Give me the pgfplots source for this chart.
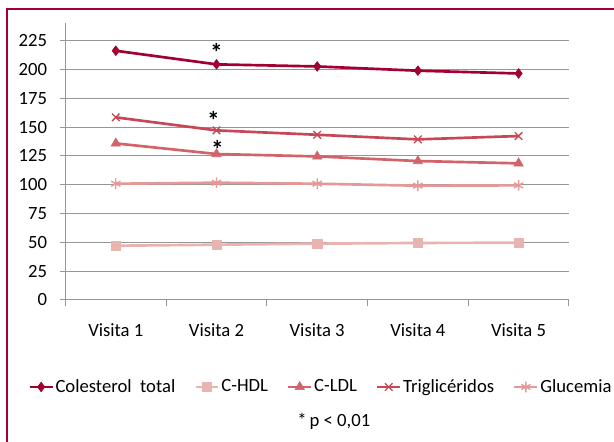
\documentclass[border=0pt]{standalone}
\usepackage{pgfplots}
\pgfplotsset{compat=1.18}
\usepackage{fontspec}
\setmainfont{Carlito}
\definecolor{cCol}{RGB}{163,0,50}
\definecolor{cTri}{RGB}{198,72,86}
\definecolor{cLDL}{RGB}{210,100,105}
\definecolor{cGlu}{RGB}{228,152,152}
\definecolor{cHDL}{RGB}{232,180,175}
\definecolor{cGrid}{RGB}{150,150,150}
\begin{document}
\fontsize{14pt}{17pt}\selectfont
\begin{tikzpicture}
\path[use as bounding box] (0,0) rectangle (460.5pt,331.5pt);
\draw[cCol, line width=1.5pt] (4.9pt,0) -- (4.9pt,324.6pt) -- (460.5pt,324.6pt);
\begin{axis}[
  at={(49.1pt,106.5pt)}, anchor=south west,
  scale only axis, width=377.6pt, height=207.4pt,
  xmin=-0.5, xmax=4.5, ymin=0, ymax=240,
  axis x line*=bottom, axis y line*=left,
  axis line style={cGrid, line width=0.75pt},
  xtick={0,1,2,3,4},
  xticklabels={Visita 1,Visita 2,Visita 3,Visita 4,Visita 5},
  minor xtick={-0.5,0.5,1.5,2.5,3.5,4.5},
  ytick={0,25,...,225},
  minor ytick={0,25,...,225},
  major tick length=0pt, minor tick length=4.2pt, tick align=outside,
  tick style={cGrid, line width=0.75pt},
  ymajorgrids, major grid style={cGrid, line width=0.75pt},
  /pgf/number format/assume math mode=true,
  ticklabel style={font=\fontsize{14pt}{17pt}\selectfont},
  xticklabel style={anchor=base, inner sep=0pt, yshift=-27.7pt},
  yticklabel style={anchor=east, inner sep=0pt, xshift=-13.6pt},
  legend columns=5,
  legend style={at={(0.507,-0.3146)}, anchor=center, draw=none, fill=none,
    font=\fontsize{14pt}{17pt}\selectfont, inner sep=0pt,
    nodes={inner sep=1.2pt},
    /tikz/every even column/.append style={column sep=13pt}},
  legend image code/.code={\draw[mark repeat=2,mark phase=2,#1] plot coordinates {(0pt,0pt)(8.6pt,0pt)(17.2pt,0pt)};},
  clip=false,
]
\addplot[cCol, line width=2pt, mark=diamond*, mark size=3.6pt, mark options={solid, line width=0.5pt}]
  coordinates {(0,216.3) (1,204.5) (2,202.7) (3,199.0) (4,196.6)};
\addlegendentry{Colesterol\ \ total}
\addplot[cHDL, line width=2pt, mark=square*, mark size=3.5pt, mark options={solid, line width=0.5pt}]
  coordinates {(0,47.1) (1,48.0) (2,48.9) (3,49.5) (4,49.7)};
\addlegendentry{C-HDL}
\addplot[cLDL, line width=2pt, mark=triangle*, mark size=4pt, mark options={solid, line width=0.5pt}]
  coordinates {(0,135.9) (1,126.7) (2,124.6) (3,120.6) (4,118.6)};
\addlegendentry{C-LDL}
\addplot[cTri, line width=2pt, mark=x, mark size=4pt, mark options={solid, line width=1pt}]
  coordinates {(0,158.5) (1,147.2) (2,143.4) (3,139.4) (4,142.3)};
\addlegendentry{Triglicéridos}
\addplot[cGlu, line width=2pt, mark=asterisk, mark size=4pt, mark options={solid, line width=1pt}]
  coordinates {(0,100.9) (1,101.8) (2,100.9) (3,99.2) (4,99.5)};
\addlegendentry{Glucemia}
\node[anchor=base, inner sep=0pt, yshift=-9pt, font=\fontsize{19pt}{22pt}\selectfont\bfseries] at (axis cs:1.0,217) {*};
\node[anchor=base, inner sep=0pt, yshift=-9pt, font=\fontsize{19pt}{22pt}\selectfont\bfseries] at (axis cs:0.97,158.5) {*};
\node[anchor=base, inner sep=0pt, yshift=-9pt, font=\fontsize{19pt}{22pt}\selectfont\bfseries] at (axis cs:1.01,133) {*};
\node[anchor=center, inner sep=0pt] at (rel axis cs:0.533,-0.4376) {*\,p < 0,01};
\end{axis}
\end{tikzpicture}
\end{document}
